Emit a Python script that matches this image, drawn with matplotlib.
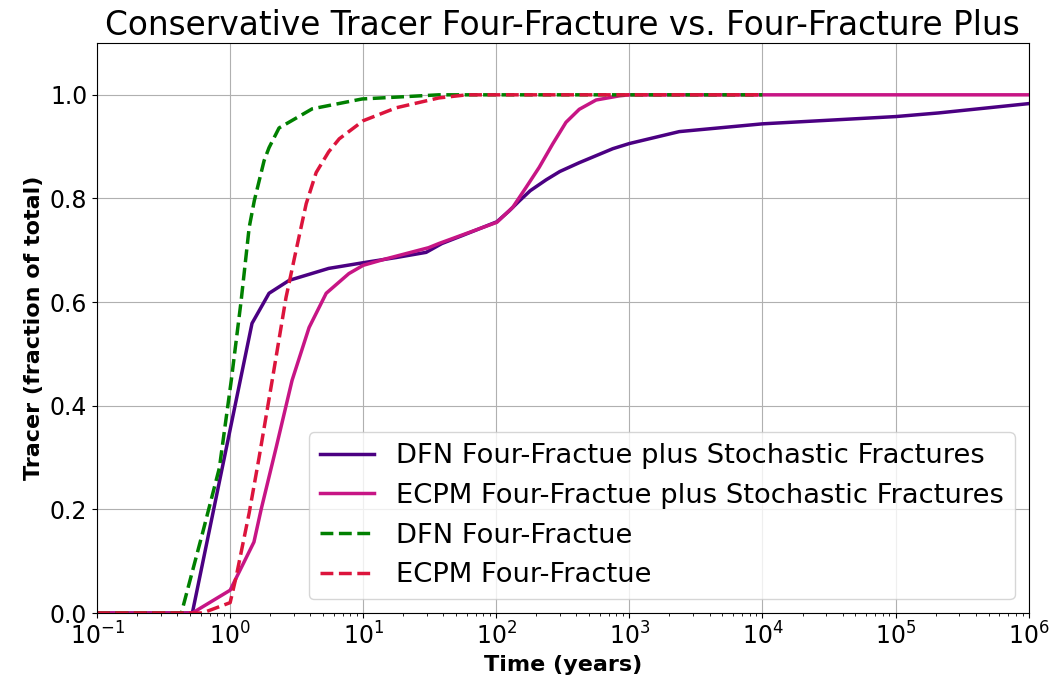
import matplotlib
matplotlib.use("Agg")
import matplotlib.pyplot as plt
from matplotlib.ticker import NullFormatter

# DFN four-fracture plus stochastic fractures
dfn_plus_t = [0.1, 0.52, 1.46, 1.96, 2.78, 5.5, 10, 17.7, 29.7, 39, 55, 101, 125, 150, 180,
              237, 300, 420, 750, 1000, 2370, 1e4, 1e5, 2.1e5, 1e6]
dfn_plus_c = [0.0, 0.0, 0.559, 0.617, 0.642, 0.665, 0.676, 0.686, 0.696, 0.713, 0.728, 0.755,
              0.776, 0.796, 0.815, 0.836, 0.852, 0.869, 0.896, 0.906, 0.929, 0.944, 0.958,
              0.965, 0.983]

# ECPM four-fracture plus stochastic fractures
ecpm_plus_t = [0.1, 0.52, 1.0, 1.51, 1.71, 2.22, 2.92, 3.92, 5.27, 7.8, 10, 14.6, 31, 37, 101,
               133, 167, 210, 265, 334, 420, 562, 840, 1000, 1e6]
ecpm_plus_c = [0.0, 0.0, 0.044, 0.137, 0.2, 0.32, 0.449, 0.551, 0.617, 0.655, 0.671, 0.683,
               0.705, 0.713, 0.754, 0.783, 0.821, 0.860, 0.905, 0.947, 0.972, 0.990, 0.998,
               1.0, 1.0]

# DFN four-fracture
dfn_t = [0.1, 0.43, 0.62, 0.83, 1.02, 1.21, 1.39, 1.52, 1.80, 1.96, 2.33, 4.14, 9.8, 37, 1e4]
dfn_c = [0.0, 0.0, 0.154, 0.28, 0.449, 0.603, 0.744, 0.796, 0.873, 0.898, 0.936, 0.973,
         0.992, 1.0, 1.0]

# ECPM four-fracture
ecpm_t = [0.1, 0.62, 1.0, 1.11, 1.39, 1.65, 2.07, 2.63, 3.13, 3.73, 4.43, 5.5, 6.6, 10, 17.7,
          37, 60, 1e4]
ecpm_c = [0.0, 0.0, 0.02, 0.07, 0.193, 0.30, 0.449, 0.609, 0.70, 0.79, 0.85, 0.89, 0.915,
          0.95, 0.975, 0.994, 1.0, 1.0]

xticks = [1e-1, 1e0, 1e1, 1e2, 1e3, 1e4, 1e5, 1e6]
yticks = [0.0, 0.2, 0.4, 0.6, 0.8, 1.0]

fig, ax = plt.subplots(figsize=(10.55, 6.88), dpi=100)
fig.subplots_adjust(left=0.092, right=0.975, top=0.9375, bottom=0.109)

ax.plot(dfn_plus_t, dfn_plus_c, color="indigo", lw=2.5,
        label="DFN Four-Fractue plus Stochastic Fractures")
ax.plot(ecpm_plus_t, ecpm_plus_c, color="mediumvioletred", lw=2.5,
        label="ECPM Four-Fractue plus Stochastic Fractures")
ax.plot(dfn_t, dfn_c, color="green", lw=2.5, ls="--", label="DFN Four-Fractue")
ax.plot(ecpm_t, ecpm_c, color="crimson", lw=2.5, ls="--", label="ECPM Four-Fractue")

ax.set_xscale("log")
ax.set_xticks(xticks)
ax.set_xlim(1e-1, 1e6)
ax.set_ylim(0, 1.1)
ax.set_yticks(yticks)
ax.xaxis.set_minor_formatter(NullFormatter())
ax.grid(True)
ax.tick_params(labelsize=17)

ax.set_title("Conservative Tracer Four-Fracture vs. Four-Fracture Plus", fontsize=23.6)
ax.set_xlabel("Time (years)", fontsize=16, fontweight="bold")
ax.set_ylabel("Tracer (fraction of total)", fontsize=16, fontweight="bold")
ax.legend(loc="lower right", fontsize=19.7)

plt.savefig("out.png")
